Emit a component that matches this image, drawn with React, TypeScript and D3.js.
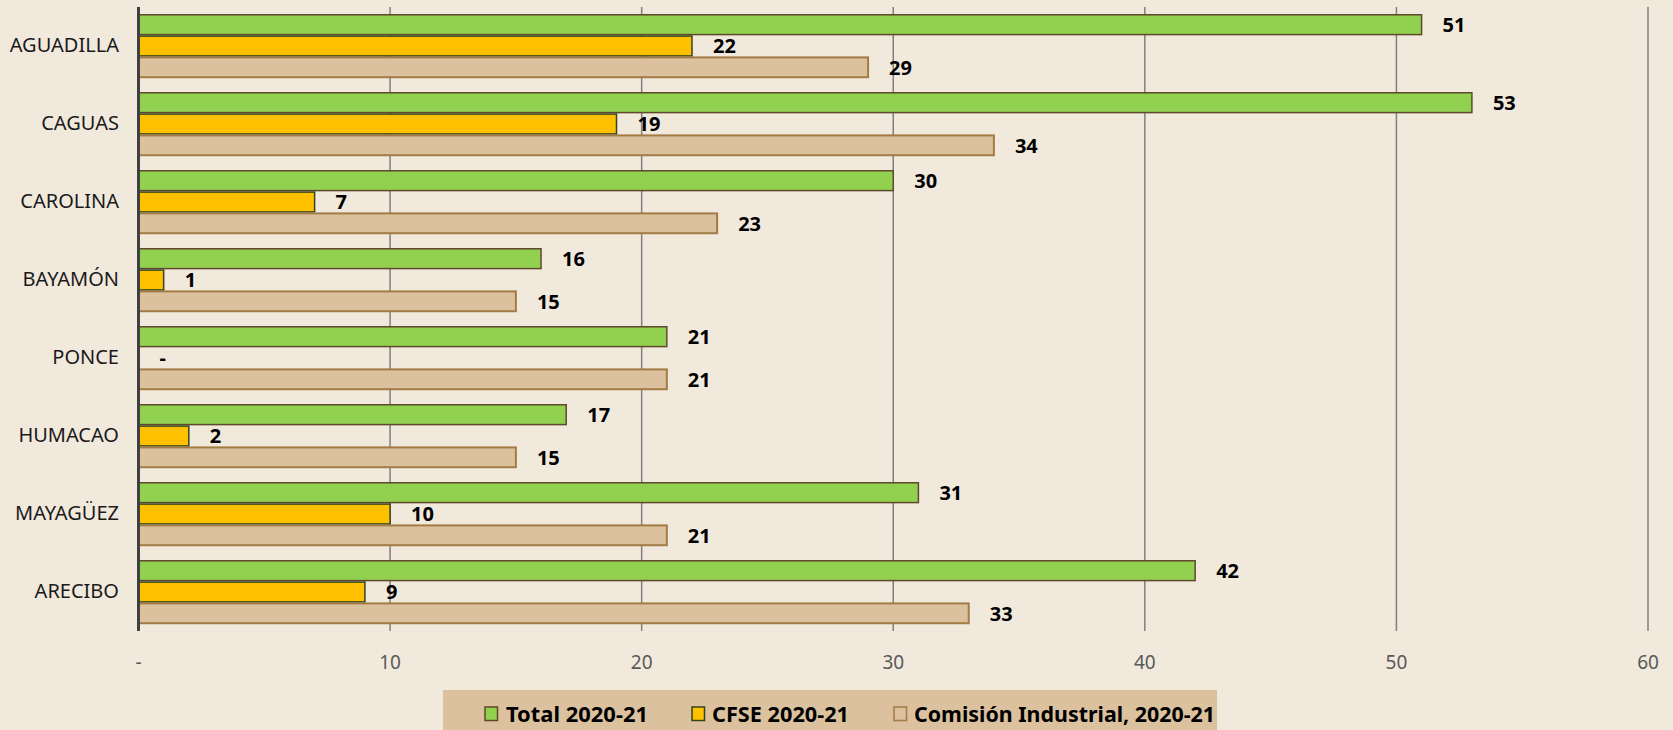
import React from "react";
import * as d3 from "d3";

const regions = ["AGUADILLA", "CAGUAS", "CAROLINA", "BAYAMÓN", "PONCE", "HUMACAO", "MAYAGÜEZ", "ARECIBO"];
const series = ["Total 2020-21", "CFSE 2020-21", "Comisión Industrial, 2020-21"];
const total = [51, 53, 30, 16, 21, 17, 31, 42];
const cfse = [22, 19, 7, 1, 0, 2, 10, 9];
const comision = [29, 34, 23, 15, 21, 15, 21, 33];
const xTicks = [0, 10, 20, 30, 40, 50, 60];

const fills = ["#92D050", "#FFC000", "#DBC19D"];
const strokes = ["#5E4A2A", "#33461E", "#A27B45"];

const W = 1673;
const H = 730;
const left = 138.5;
const right = 1648;
const top = 7;
const bottom = 631;

export default function App() {
  const values = [total, cfse, comision];

  const x = d3.scaleLinear().domain([0, 60]).range([left, right]);
  const y = d3.scaleBand().domain(regions).range([top, bottom]).paddingInner(0.18).paddingOuter(0.09);
  const ySub = d3.scaleBand().domain(series).range([0, y.bandwidth()]);

  const font = "'Noto Sans', 'Open Sans', sans-serif";

  // legend positions
  const legendItems = [
    { sq: 485, tx: 506, len: 142 },
    { sq: 692, tx: 712, len: 137 },
    { sq: 894, tx: 914, len: 301 },
  ];

  return (
    <div style={{ position: "fixed", left: 0, top: 0 }}>
      <svg width={W} height={H} style={{ display: "block" }}>
        <rect x={0} y={0} width={W} height={H} fill="#F2E9DD" />

        {/* grid */}
        {xTicks.slice(1).map((t) => (
          <line key={t} x1={x(t)} x2={x(t)} y1={top} y2={bottom} stroke="#7F7F7F" strokeWidth={1.5} />
        ))}

        {/* bars */}
        {regions.map((r, i) => (
          <g key={r} transform={`translate(0, ${y(r)})`}>
            {series.map((s, j) => {
              const v = values[j][i];
              const by = ySub(s)!;
              const bh = ySub.bandwidth();
              return (
                <g key={s}>
                  {v > 0 && (
                    <rect
                      x={x(0)}
                      y={by + 0.75}
                      width={x(v) - x(0)}
                      height={bh - 1.5}
                      fill={fills[j]}
                      stroke={strokes[j]}
                      strokeWidth={j === 2 ? 2 : 1.5}
                    />
                  )}
                  <text
                    x={x(v) + 21}
                    y={by + bh / 2 + 2}
                    dominantBaseline="middle"
                    fontFamily={font}
                    fontWeight="bold"
                    fontSize={20}
                    fill="#000"
                  >
                    {v === 0 ? "-" : v}
                  </text>
                </g>
              );
            })}
            <text
              x={119}
              y={y.bandwidth() / 2 + 1}
              textAnchor="end"
              dominantBaseline="middle"
              fontFamily={font}
              fontSize={20}
              fill="#1A1A1A"
            >
              {r}
            </text>
          </g>
        ))}

        {/* y axis line */}
        <line x1={left} x2={left} y1={top} y2={bottom} stroke="#404040" strokeWidth={3} />

        {/* x tick labels */}
        {xTicks.map((t) => (
          <text
            key={t}
            x={x(t)}
            y={669}
            textAnchor="middle"
            fontFamily={font}
            fontSize={19}
            fill="#595959"
          >
            {t === 0 ? "-" : t}
          </text>
        ))}

        {/* legend */}
        <rect x={443} y={690} width={774} height={40} fill="#DBC19D" />
        {series.map((s, j) => (
          <g key={s}>
            <rect
              x={legendItems[j].sq}
              y={707}
              width={12.5}
              height={13.5}
              fill={fills[j]}
              stroke={strokes[j]}
              strokeWidth={1.5}
            />
            <text
              x={legendItems[j].tx}
              y={722}
              fontFamily={font}
              fontWeight="bold"
              fontSize={21}
              fill="#000"
              textLength={legendItems[j].len}
              lengthAdjust="spacingAndGlyphs"
            >
              {s}
            </text>
          </g>
        ))}
      </svg>
    </div>
  );
}
